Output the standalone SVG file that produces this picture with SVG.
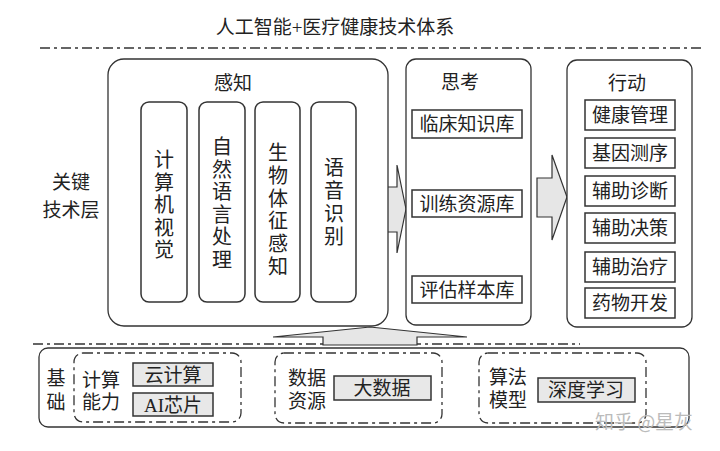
<svg xmlns="http://www.w3.org/2000/svg" width="720" height="451" viewBox="0 0 720 451">
<style>
text{font-family:"Liberation Serif","Noto Sans CJK SC",serif;fill:#222;text-anchor:middle}
.t{font-size:19px}
.c{font-size:20px}
.frame{fill:#fff;stroke:#333;stroke-width:1.3}
.box{fill:#fff;stroke:#333;stroke-width:1.5}
.gbox{fill:#e8e8e8;stroke:#333;stroke-width:1.5}
.dd{fill:none;stroke:#333;stroke-width:1.3;stroke-dasharray:10 4 3 4}
.arr{fill:#e6e6e6;stroke:#333;stroke-width:1.2;stroke-linejoin:miter}
</style>
<text x="335" y="34" style="font-size:19px">人工智能+医疗健康技术体系</text>
<line class="dd" x1="40" y1="48" x2="705" y2="48"/>
<line class="dd" x1="33" y1="344" x2="580" y2="344"/>
<g id="label-key">
<text class="t" x="71" y="189">关键</text>
<text class="t" x="71" y="217">技术层</text>
</g>
<g id="connectors">
<polygon class="arr" points="273,337 323,337 323,345 417,345 417,337 467,337 370,327"/>
<polygon class="arr" points="386,187 397,187 397,165 406,209 397,253 397,232 386,232"/>
<polygon class="arr" points="537,178 552,178 552,155 567,197 552,240 552,217 537,217"/>
</g>
<g id="perception">
<rect class="frame" x="108" y="59" width="280" height="267" rx="16"/>
<text class="t" x="233" y="90">感知</text>
<rect class="box" x="141" y="102" width="46" height="200" rx="8"/>
<rect class="box" x="199" y="102" width="46" height="200" rx="8"/>
<rect class="box" x="255" y="102" width="45" height="200" rx="8"/>
<rect class="box" x="311" y="102" width="45" height="200" rx="8"/>
<text class="c" x="164"><tspan x="164" y="167">计</tspan><tspan x="164" y="190">算</tspan><tspan x="164" y="212">机</tspan><tspan x="164" y="235">视</tspan><tspan x="164" y="257">觉</tspan></text>
<text class="c" x="222"><tspan x="222" y="154">自</tspan><tspan x="222" y="177">然</tspan><tspan x="222" y="199">语</tspan><tspan x="222" y="222">言</tspan><tspan x="222" y="244">处</tspan><tspan x="222" y="267">理</tspan></text>
<text class="c" x="278"><tspan x="278" y="160">生</tspan><tspan x="278" y="183">物</tspan><tspan x="278" y="206">体</tspan><tspan x="278" y="228">征</tspan><tspan x="278" y="251">感</tspan><tspan x="278" y="274">知</tspan></text>
<text class="c" x="334"><tspan x="334" y="175">语</tspan><tspan x="334" y="198">音</tspan><tspan x="334" y="221">识</tspan><tspan x="334" y="244">别</tspan></text>
</g>
<g id="thinking">
<rect class="frame" x="406" y="59" width="125" height="266" rx="10"/>
<text class="t" x="460" y="89">思考</text>
<rect class="box" x="412" y="110" width="110" height="28"/>
<text class="t" x="467" y="131">临床知识库</text>
<rect class="box" x="412" y="190" width="110" height="27"/>
<text class="t" x="467" y="211">训练资源库</text>
<rect class="box" x="412" y="276" width="110" height="27"/>
<text class="t" x="467" y="297">评估样本库</text>
</g>
<g id="action">
<rect class="frame" x="567" y="60" width="125" height="267" rx="10"/>
<text class="t" x="627" y="90">行动</text>
<rect class="box" x="585" y="100" width="90" height="30"/>
<text class="t" x="630" y="122">健康管理</text>
<rect class="box" x="585" y="138" width="90" height="30"/>
<text class="t" x="630" y="160">基因测序</text>
<rect class="box" x="585" y="176" width="90" height="30"/>
<text class="t" x="630" y="198">辅助诊断</text>
<rect class="box" x="585" y="213" width="90" height="30"/>
<text class="t" x="630" y="235">辅助决策</text>
<rect class="box" x="585" y="252" width="90" height="30"/>
<text class="t" x="630" y="274">辅助治疗</text>
<rect class="box" x="585" y="288" width="90" height="30"/>
<text class="t" x="630" y="310">药物开发</text>
</g>
<g id="foundation">
<rect class="frame" x="39" y="348" width="650" height="79" rx="9"/>
<text class="t" x="56" y="385">基</text>
<text class="t" x="56" y="409">础</text>
</g>
<g id="compute">
<rect class="dd" x="74" y="353" width="167" height="69" rx="9"/>
<text class="t" x="101" y="387">计算</text>
<text class="t" x="101" y="409">能力</text>
<rect class="gbox" x="133" y="363" width="80" height="23"/>
<text class="t" x="173" y="382">云计算</text>
<rect class="gbox" x="133" y="393" width="80" height="23"/>
<text class="t" x="173" y="412">AI芯片</text>
</g>
<g id="data">
<rect class="dd" x="275" y="353" width="167" height="70" rx="9"/>
<text class="t" x="307" y="385">数据</text>
<text class="t" x="307" y="408">资源</text>
<rect class="gbox" x="334" y="376" width="97" height="24"/>
<text class="t" x="382" y="395">大数据</text>
</g>
<g id="algorithm">
<rect class="dd" x="479" y="353" width="167" height="70" rx="9"/>
<text class="t" x="508" y="384">算法</text>
<text class="t" x="508" y="407">模型</text>
<rect class="gbox" x="538" y="378" width="97" height="24"/>
<text class="t" x="586" y="397">深度学习</text>
</g>
<text x="644" y="429" style="font-size:19px;fill:#bbb;font-family:'Noto Sans CJK SC',sans-serif">知乎 @星灰</text>
</svg>
